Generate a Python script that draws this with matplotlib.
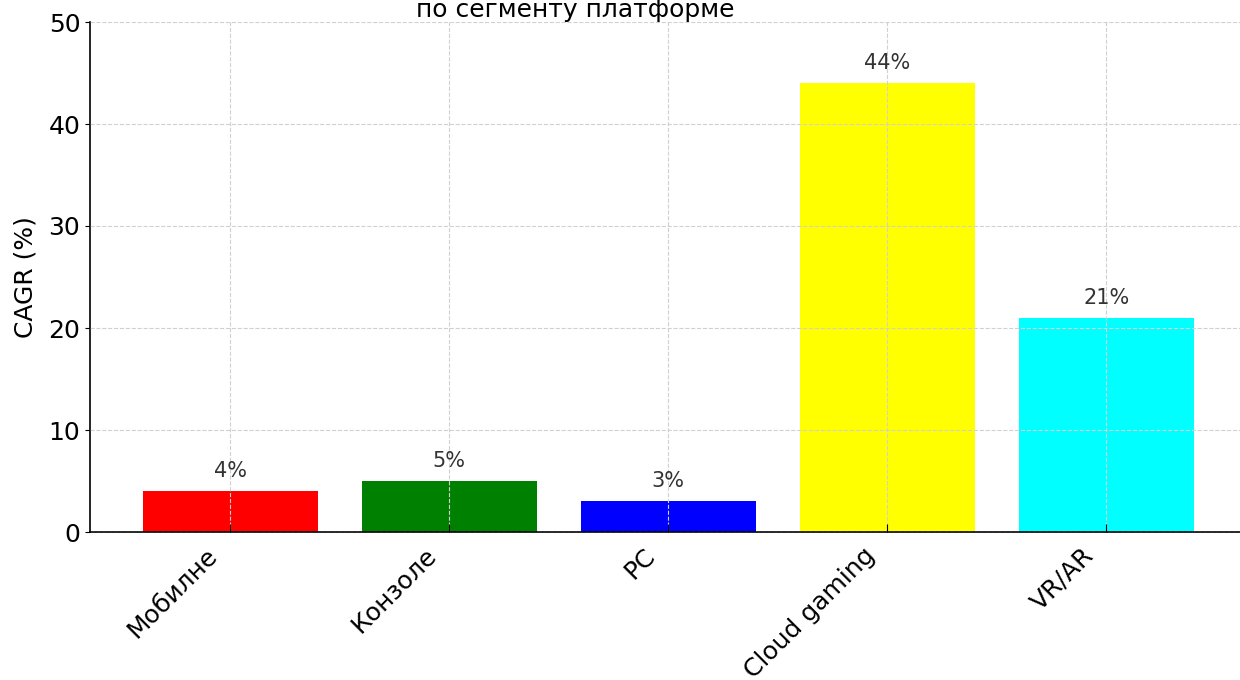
import matplotlib
matplotlib.use("Agg")
import matplotlib.pyplot as plt
import matplotlib.transforms as mtransforms

# CAGR by platform segment
segments = ["Мобилне", "Конзоле", "PC", "Cloud gaming", "VR/AR"]
cagr = [4, 5, 3, 44, 21]
colors = ["red", "green", "blue", "yellow", "cyan"]

plt.rcParams["font.family"] = ["DejaVu Sans"]

fig = plt.figure(figsize=(12.4, 6.8), dpi=100)
ax = fig.add_axes([90 / 1240, 148 / 680, 1 - 90 / 1240, (532 - 22) / 680])

x = range(len(segments))
ax.bar(x, cagr, width=0.8, color=colors, zorder=1)
for i, v in zip(x, cagr):
    ax.text(i, v + 1.0, f"{v}%", ha="center", va="bottom", fontsize=15, color="#333333")

ax.set_xlim(-0.64, 4.61)
ax.set_ylim(0, 50)
ax.set_xticks(list(x))
ax.set_xticklabels(segments, rotation=45, ha="right", fontsize=18)
ax.tick_params(axis="y", labelsize=18)
ax.tick_params(axis="x", direction="in", length=6, pad=8)
# nudge the slanted labels a bit to the left
shift = mtransforms.ScaledTranslation(-8 / 100, 0, fig.dpi_scale_trans)
for lbl in ax.get_xticklabels():
    lbl.set_transform(lbl.get_transform() + shift)
ax.set_ylabel("CAGR (%)", fontsize=18, labelpad=8)

ax.grid(True, linestyle="--", color="#d0d0d0", linewidth=0.8, zorder=3)
ax.set_axisbelow(False)
for s in ["top", "right"]:
    ax.spines[s].set_visible(False)
ax.spines["left"].set_linewidth(1.2)
ax.spines["bottom"].set_linewidth(1.2)

fig.text(575 / 1240, 1 - 17 / 680, "по сегменту платформе", ha="center", va="baseline", fontsize=18)

fig.savefig("out.png", dpi=100)
